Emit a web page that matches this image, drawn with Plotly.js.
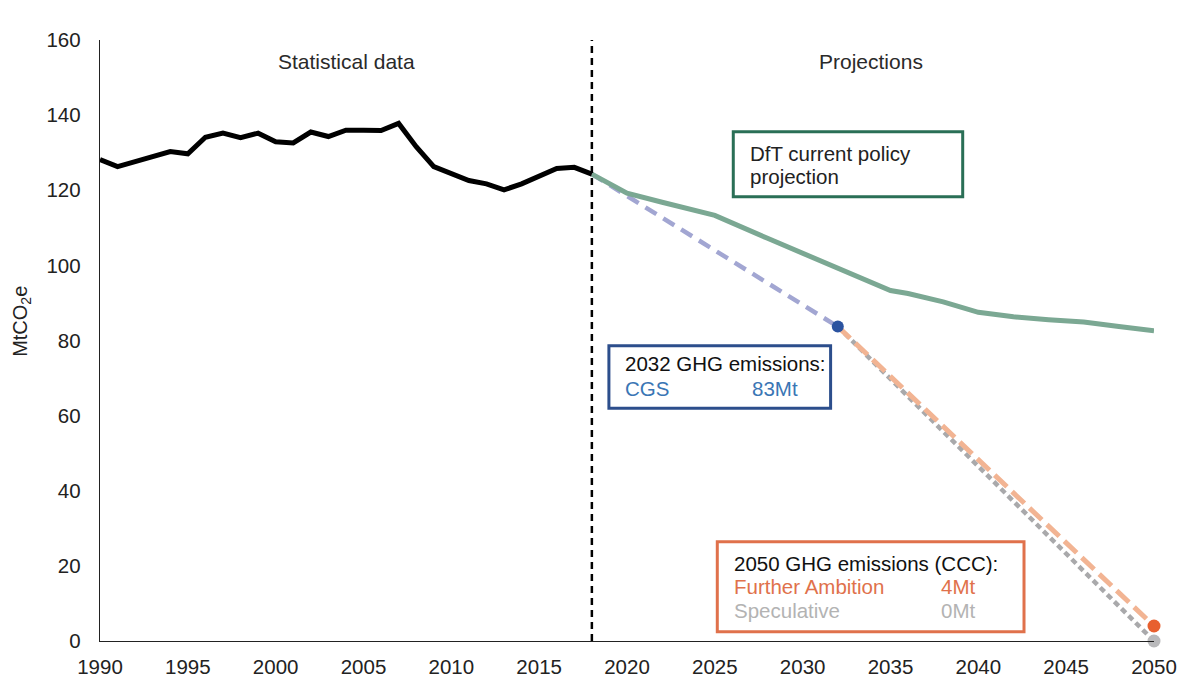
<!DOCTYPE html>
<html>
<head>
<meta charset="utf-8">
<script src="https://cdn.plot.ly/plotly-3.0.1.min.js"></script>
<style>html,body{margin:0;padding:0;background:#fff;}#chart{width:1201px;height:682px;}</style>
</head>
<body>
<div id="chart"></div>
<script>
// ---- Data ----
const histYears = [1990,1991,1992,1993,1994,1995,1996,1997,1998,1999,2000,2001,2002,2003,2004,2005,2006,2007,2008,2009,2010,2011,2012,2013,2014,2015,2016,2017,2018];
const histValues = [128.2,126.3,127.6,129.0,130.3,129.7,134.1,135.2,134.0,135.2,132.9,132.6,135.5,134.3,136.0,136.0,135.9,137.8,131.6,126.3,124.5,122.6,121.7,120.1,121.7,123.6,125.8,126.1,124.3];

const dftYears = [2018,2019,2020,2022,2025,2028,2030,2035,2036,2038,2040,2042,2044,2046,2048,2050];
const dftValues = [124.3,121.6,119.2,116.8,113.3,107.2,103.3,93.3,92.5,90.3,87.5,86.3,85.5,84.9,83.7,82.6];

const cgsYears = [2018,2032];
const cgsValues = [124.3,83.7];

const faYears = [2032,2050];
const faValues = [83.7,4];

const specYears = [2032,2050];
const specValues = [83.7,0];

const dividerYear = 2018;
const xTicks = [1990,1995,2000,2005,2010,2015,2020,2025,2030,2035,2040,2045,2050];
const yTicks = [0,20,40,60,80,100,120,140,160];

// ---- Styles ----
const FONT = 'Liberation Sans, Arial, Helvetica, sans-serif';

const traces = [
  {x: specYears, y: specValues, mode: 'lines', line: {color: '#a9a9ab', width: 4.5, dash: '6px,4px'}, hoverinfo: 'skip'},
  {x: faYears, y: faValues, mode: 'lines', line: {color: '#f2b493', width: 5, dash: '17px,7px'}, hoverinfo: 'skip'},
  {x: cgsYears, y: cgsValues, mode: 'lines', line: {color: '#a2a6d2', width: 4.5, dash: '13px,8px'}, hoverinfo: 'skip'},
  {x: dftYears, y: dftValues, mode: 'lines', line: {color: '#7ba893', width: 5}, hoverinfo: 'skip'},
  {x: histYears, y: histValues, mode: 'lines', line: {color: '#000000', width: 5}, hoverinfo: 'skip'},
  {x: [cgsYears[cgsYears.length-1]], y: [cgsValues[cgsValues.length-1]], mode: 'markers', marker: {color: '#2b53a0', size: 12}, cliponaxis: false, hoverinfo: 'skip'},
  {x: [specYears[specYears.length-1]], y: [specValues[specValues.length-1]], mode: 'markers', marker: {color: '#b9b9bb', size: 13}, cliponaxis: false, hoverinfo: 'skip'},
  {x: [faYears[faYears.length-1]], y: [faValues[faValues.length-1]], mode: 'markers', marker: {color: '#e8602f', size: 13}, cliponaxis: false, hoverinfo: 'skip'}
];

function txt(x, y, text, color, opts) {
  return Object.assign({
    x: x, y: y, xref: 'x', yref: 'y', text: text, showarrow: false,
    xanchor: 'left', yanchor: 'middle',
    font: {family: FONT, size: 20.5, color: color}
  }, opts || {});
}

const annotations = [
  txt(2004.06, 154.15, 'Statistical data', '#2a2a2a', {xanchor: 'center', font: {family: FONT, size: 21, color: '#2a2a2a'}}),
  txt(2033.89, 154.15, 'Projections', '#2a2a2a', {xanchor: 'center', font: {family: FONT, size: 21, color: '#2a2a2a'}}),
  txt(2026.89, 129.85, 'DfT current policy', '#222222'),
  txt(2026.89, 123.6, 'projection', '#222222'),
  txt(2019.79, 73.93, '2032 GHG emissions:', '#111111'),
  txt(2019.79, 67.28, 'CGS', '#3a76b5'),
  txt(2027.0, 67.28, '83Mt', '#3a76b5'),
  txt(2025.99, 20.69, '2050 GHG emissions (CCC):', '#111111'),
  txt(2025.99, 14.46, 'Further Ambition', '#e0714b'),
  txt(2039.9, 14.46, '4Mt', '#e0714b', {xanchor: 'right'}),
  txt(2025.99, 8.25, 'Speculative', '#b3b3b3'),
  txt(2039.9, 8.25, '0Mt', '#b3b3b3', {xanchor: 'right'}),
  {x: -0.074, y: 0.531, xref: 'paper', yref: 'paper', text: 'MtCO<sub>2</sub>e', showarrow: false,
   textangle: -90, xanchor: 'center', yanchor: 'middle', font: {family: FONT, size: 20, color: '#222222'}}
];

const shapes = [
  {type: 'line', xref: 'x', yref: 'y', x0: dividerYear, x1: dividerYear, y0: 0, y1: 160,
   line: {color: '#000000', width: 2.5, dash: '7px,5px'}},
  {type: 'rect', xref: 'x', yref: 'y', x0: 2026.05, x1: 2039.11, y0: 118.29, y1: 135.6,
   line: {color: '#2a6f56', width: 3}, fillcolor: 'rgba(255,255,255,0)'},
  {type: 'rect', xref: 'x', yref: 'y', x0: 2018.97, x1: 2031.59, y0: 61.95, y1: 78.62,
   line: {color: '#2c4e8c', width: 3}, fillcolor: 'rgba(255,255,255,0)'},
  {type: 'rect', xref: 'x', yref: 'y', x0: 2025.14, x1: 2042.6, y0: 2.48, y1: 26.44,
   line: {color: '#e0714b', width: 3}, fillcolor: 'rgba(255,255,255,0)'}
];

const layout = {
  width: 1201, height: 682,
  margin: {l: 100, r: 47, t: 40, b: 41, pad: 0},
  paper_bgcolor: '#ffffff', plot_bgcolor: '#ffffff',
  showlegend: false,
  font: {family: FONT, size: 20, color: '#222222'},
  xaxis: {
    range: [1990, 2050], tickvals: xTicks, ticktext: xTicks.map(String),
    showgrid: false, zeroline: false, showline: true, linecolor: '#222222', linewidth: 1.3,
    ticks: 'outside', ticklen: 7, tickcolor: 'rgba(0,0,0,0)',
    tickfont: {family: FONT, size: 20.5, color: '#222222'}, fixedrange: true
  },
  yaxis: {
    range: [0, 160], tickvals: yTicks, ticktext: yTicks.map(String),
    showgrid: false, zeroline: false, showline: true, linecolor: '#222222', linewidth: 1.3,
    ticks: 'outside', ticklen: 14, tickcolor: 'rgba(0,0,0,0)',
    tickfont: {family: FONT, size: 20.5, color: '#222222'}, fixedrange: true
  },
  annotations: annotations,
  shapes: shapes
};

Plotly.newPlot('chart', traces, layout, {displayModeBar: false, staticPlot: true});
</script>
</body>
</html>
